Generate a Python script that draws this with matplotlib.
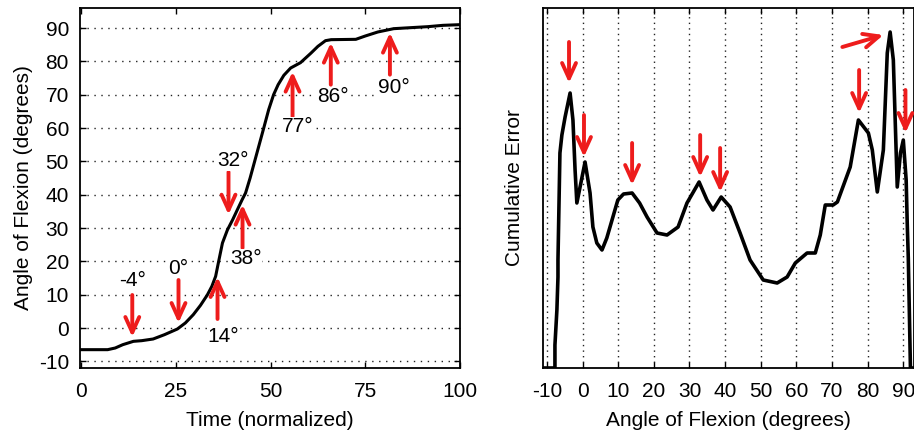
import matplotlib.pyplot as plt
from matplotlib.patches import FancyArrowPatch

plt.rcParams['font.family'] = ['Liberation Sans', 'DejaVu Sans']
plt.rcParams['font.size'] = 15
plt.rcParams['axes.unicode_minus'] = False

# Left panel: flexion angle vs normalized time
time_pts = [0, 7, 9, 11, 13.8, 16, 19, 22, 25.4, 27.5, 29.6, 31.5, 33.3, 34.5, 35.5,
            36.3, 37.3, 38.6, 40, 41.2, 42.5, 43.4, 44.6, 45.8, 47, 48.2, 49.5, 50.8,
            52, 53.5, 55.3, 57.9, 60.6, 62.5, 64.5, 66, 72.5, 75, 78.3, 82.5, 87,
            91.5, 95.5, 100]
angle_pts = [-6.5, -6.5, -6.0, -5.0, -4.0, -3.8, -3.3, -2.0, -0.3, 1.5, 4.0, 6.8, 9.9,
             12.5, 15.5, 20.0, 25.5, 29.4, 32.5, 35.4, 38.5, 40.5, 45.0, 50.0, 55.0,
             60.0, 65.5, 70.0, 73.0, 75.8, 78.0, 79.6, 82.4, 84.5, 86.2, 86.5, 86.6,
             87.6, 88.8, 89.8, 90.1, 90.4, 90.8, 91.0]

# arrows on left panel
left_labels = ['-4°', '0°', '14°', '32°', '38°', '77°', '86°', '90°']
left_arrow_x = [13.5, 25.7, 36.0, 38.9, 42.6, 55.8, 65.9, 81.5]
left_tail_y = [9.9, 14.4, 2.7, 46.8, 24.0, 63.4, 73.0, 76.0]
left_tip_y = [-2.7, 1.5, 15.3, 34.0, 37.0, 76.9, 85.6, 88.6]
left_label_x = [13.5, 25.7, 37.6, 40.0, 43.4, 57.1, 66.4, 82.5]
left_label_y = [14.4, 18.0, -2.7, 50.2, 20.7, 60.4, 69.4, 72.1]

# Right panel: cumulative error vs angle of flexion
flex_pts = [-11.1, -7.75, -7.75, -7.2, -6.9, -6.9, -6.35, -5.8, -4.9, -3.5, -2.7, -2.1,
            -1.6, -0.7, 0.7, 2.1, 2.9, 4.0, 5.45, 6.8, 7.7, 9.9, 11.5, 13.9, 16.0, 18.1,
            20.9, 23.7, 26.8, 29.3, 32.7, 34.9, 36.6, 38.9, 41.4, 44.2, 47.0, 50.7,
            54.6, 57.4, 59.7, 63.0, 65.3, 66.7, 68.1, 70.3, 71.5, 75.1, 77.4, 80.2,
            81.3, 82.7, 84.4, 85.5, 86.3, 87.2, 88.3, 89.2, 90.0, 90.8, 91.1, 91.4,
            92.0, 93.0]
error_pts = [0, 0, 23, 58, 91, 108, 215, 233, 251, 275, 248, 198, 165, 181, 206, 175,
             141, 125, 118, 130, 141, 168, 174, 175, 165, 151, 135, 133, 141, 165, 186,
             168, 158, 171, 161, 135, 108, 88, 85, 91, 105, 115, 115, 133, 163, 163,
             166, 201, 248, 235, 218, 176, 218, 315, 336, 308, 181, 215, 228, 188, 145,
             110, 0, 0]

right_arrow_tail = [(-3.8, 326), (0.4, 253), (13.9, 225), (33.0, 233), (38.6, 220),
                    (77.6, 298), (90.6, 278), (72.9, 321)]
right_arrow_tip = [(-3.8, 285), (0.4, 211), (13.9, 183), (33.0, 191), (38.6, 176),
                   (77.6, 255), (90.6, 235), (84.4, 333)]

red = '#ee1c1c'


def red_arrow(ax, tail, tip):
    arr = FancyArrowPatch(tail, tip, arrowstyle='->,head_length=0.55,head_width=0.25',
                          color=red, lw=2.8, mutation_scale=20, shrinkA=0, shrinkB=0,
                          zorder=4)
    ax.add_patch(arr)


fig = plt.figure(figsize=(9.14, 4.30), dpi=100)

# ---- left panel
ax1 = fig.add_axes([80 / 914, 1 - 368 / 430, 380 / 914, 360 / 430])
ax1.plot(time_pts, angle_pts, color='black', lw=2.2, zorder=3)
ax1.set_xlim(-0.3, 100)
ax1.set_ylim(-12, 96)
ax1.set_xticks([0, 25, 50, 75, 100])
ax1.set_yticks(range(-10, 100, 10))
ax1.grid(axis='y', color='#222222', linestyle=(0, (1, 4)), lw=1.0)
ax1.tick_params(direction='in', top=True, right=True, length=4, width=1, pad=8)
ax1.tick_params(axis='x', pad=10)
ax1.set_xlabel('Time (normalized)', labelpad=7)
ax1.set_ylabel('Angle of Flexion (degrees)', labelpad=4)
for i in range(len(left_labels)):
    red_arrow(ax1, (left_arrow_x[i], left_tail_y[i]), (left_arrow_x[i], left_tip_y[i]))
    ax1.text(left_label_x[i], left_label_y[i], left_labels[i], ha='center', va='center',
             zorder=5, bbox=dict(facecolor='white', edgecolor='none', pad=0.5))

# ---- right panel
ax2 = fig.add_axes([543 / 914, 1 - 368 / 430, 371 / 914, 360 / 430])
ax2.plot(flex_pts, error_pts, color='black', lw=2.6, zorder=3)
ax2.set_xlim(-11.1, 93)
ax2.set_ylim(0, 360)
ax2.set_xticks(range(-10, 100, 10))
ax2.set_yticks([])
ax2.grid(axis='x', color='#222222', linestyle=(0, (1, 3)), lw=1.0)
ax2.tick_params(direction='in', top=True, length=4, width=1, pad=10)
ax2.set_xlabel('Angle of Flexion (degrees)', labelpad=7)
ax2.set_ylabel('Cumulative Error', labelpad=14)
for tail, tip in zip(right_arrow_tail, right_arrow_tip):
    red_arrow(ax2, tail, tip)

for ax in (ax1, ax2):
    for s in ax.spines.values():
        s.set_linewidth(1.3)

fig.savefig('out.png', dpi=100)
